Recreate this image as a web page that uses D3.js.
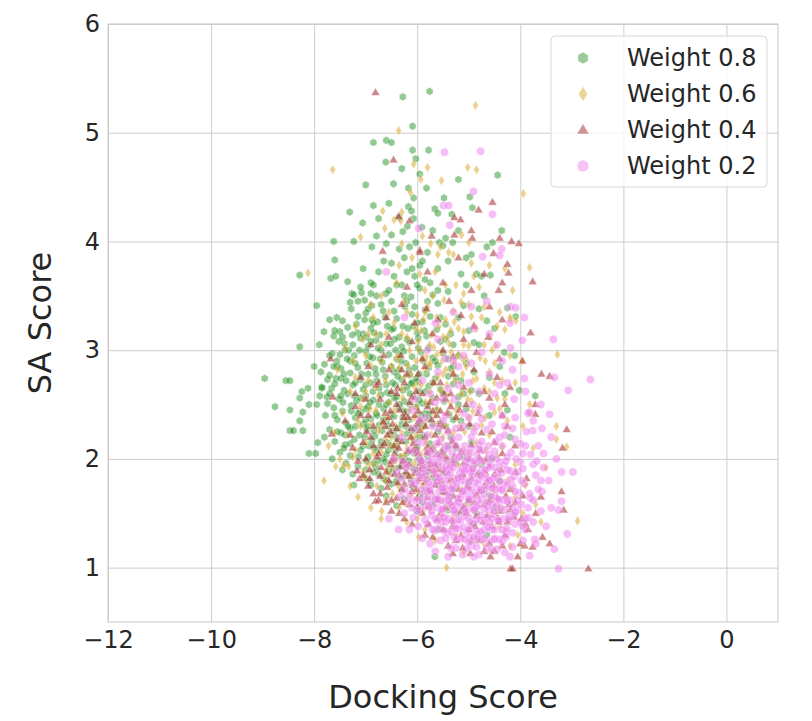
<!DOCTYPE html>
<html>
<head>
<meta charset="utf-8">
<script src="https://cdn.jsdelivr.net/npm/d3@7"></script>
<style>
  body { margin: 0; background: #fff; }
  svg { display: block; font-family: "DejaVu Sans", sans-serif; }
</style>
</head>
<body>
<svg id="chart" width="812" height="721"></svg>
<script>
// Docking score (x) vs SA score (y), one array per weight

const xTicks = [-12, -10, -8, -6, -4, -2, 0];
const yTicks = [1, 2, 3, 4, 5, 6];
const seriesNames = ["Weight 0.8", "Weight 0.6", "Weight 0.4", "Weight 0.2"];

const weight08 = [
  [-6.28,5.33],[-5.76,5.38],[-6.09,5.06],[-6.85,4.91],[-6.6,4.93],[-6.5,4.91],[-6.09,4.84],[-5.78,4.84],
  [-6.61,4.73],[-6.03,4.76],[-5.2,4.57],[-4.44,4.61],[-7.0,4.52],[-6.46,4.53],[-6.17,4.49],[-5.82,4.49],
  [-6.07,4.4],[-4.98,4.41],[-4.93,4.31],[-6.85,4.33],[-7.31,4.27],[-6.75,4.21],[-7.06,4.17],[-6.17,4.32],
  [-6.11,4.28],[-5.66,4.3],[-5.6,4.26],[-5.33,4.25],[-6.07,4.21],[-6.19,4.14],[-6.28,4.09],[-5.91,4.13],
  [-6.5,4.06],[-6.79,4.05],[-7.62,4.0],[-7.23,4.0],[-4.36,4.1],[-4.54,3.99],[-5.45,4.03],[-5.31,3.99],
  [-5.57,3.99],[-6.03,3.99],[-6.88,3.95],
  [-7.6,3.83],[-8.28,3.69],[-7.68,3.66],[-7.58,3.68],[-7.35,3.63],[-7.95,3.41],[-8.28,3.03],[-8.96,2.74],
  [-8.55,2.72],[-8.47,2.72],[-8.76,2.48],[-8.47,2.45],[-8.24,2.62],[-8.12,2.65],[-8.28,2.56],[-8.1,2.5],
  [-8.22,2.43],[-8.28,2.35],[-8.47,2.26],[-8.4,2.26],[-8.22,2.26],[-7.93,2.15],[-8.1,2.05],[-7.97,2.05],
  [-7.87,2.8],[-7.85,2.65],[-7.89,2.58],[-7.74,2.51],[-7.66,2.65],[-7.81,3.17],[-7.7,3.28],[-7.62,3.13],
  [-7.5,3.17],[-7.56,3.3],[-7.27,3.52],[-7.23,3.51],[-7.08,3.53],[-7.0,3.34],[-6.88,3.41],[-6.88,3.28],
  [-6.79,3.5],[-6.61,3.52],[-6.77,3.26],[-7.16,3.16],[-7.41,3.06],[-7.33,3.0],[-7.56,2.9],[-7.48,2.83],
  [-7.74,2.73],[-7.58,2.74],[-7.23,1.76],[-5.66,1.1],
  [-4.58,3.69],[-4.25,3.39],[-4.09,3.31],[-4.11,2.95],[-4.31,2.98],[-4.02,2.63],[-3.71,2.58],
  [-6.75,3.72],[-6.5,3.8],[-6.25,3.85],[-6.05,3.68],[-5.95,3.78],[-5.8,3.9],[-5.6,3.75],[-5.4,3.82],
  [-5.15,3.7],[-4.95,3.88],[-4.75,3.68],[-6.9,3.62],[-6.35,3.93],[-5.5,3.96],[-5.05,3.6],
  [-7.1,3.58],[-6.9,3.52],[-6.55,3.55],[-6.3,3.6],[-6.12,3.49],[-5.95,3.57],[-5.7,3.51],[-5.4,3.54],
  [-7.3,3.44],[-6.95,3.38],[-6.7,3.42],[-6.45,3.36],[-6.2,3.45],[-6.05,3.4],[-5.85,3.37],[-5.6,3.43],[-5.1,3.41],[-4.8,3.38],
  [-7.45,3.27],[-7.15,3.31],[-6.85,3.25],[-6.62,3.3],[-6.4,3.29],[-6.28,3.22],[-6.1,3.33],[-5.9,3.26],[-5.75,3.31],[-5.45,3.24],[-5.2,3.3],[-4.65,3.27],
  [-7.6,3.18],[-7.35,3.21],[-7.05,3.15],[-6.9,3.2],[-6.72,3.14],[-6.5,3.19],[-6.35,3.12],[-6.18,3.2],[-6.0,3.16],[-5.82,3.13],[-5.62,3.19],[-5.35,3.15],[-5.0,3.18],
  [-7.52,3.08],[-7.25,3.05],[-7.1,3.11],[-6.95,3.04],[-6.8,3.09],[-6.6,3.06],[-6.44,3.1],[-6.3,3.03],[-6.15,3.07],[-5.98,3.11],[-5.78,3.02],[-5.55,3.08],[-5.3,3.05],[-4.9,3.07],
  [-7.65,2.97],[-7.4,3.0],[-7.22,2.95],[-7.0,2.99],[-6.86,2.93],[-6.7,3.0],[-6.55,2.96],[-6.4,2.92],[-6.26,2.99],[-6.1,2.94],[-5.92,2.98],[-5.7,2.93],[-5.5,2.97],[-5.2,2.95],
  [-7.8,2.87],[-7.55,2.85],[-7.3,2.9],[-7.15,2.84],[-6.98,2.88],[-6.82,2.83],[-6.68,2.89],[-6.5,2.85],[-6.35,2.82],[-6.22,2.88],[-6.05,2.84],[-5.88,2.9],[-5.6,2.86],[-5.35,2.83],[-5.05,2.88],
  [-7.7,2.77],[-7.48,2.74],[-7.3,2.79],[-7.1,2.73],[-6.95,2.78],[-6.78,2.72],[-6.62,2.76],[-6.45,2.8],[-6.3,2.73],[-6.15,2.77],[-6.0,2.71],[-5.82,2.78],[-5.65,2.74],[-5.4,2.76],[-5.15,2.72],
  [-7.85,2.66],[-7.6,2.69],[-7.42,2.63],[-7.25,2.68],[-7.05,2.64],[-6.9,2.7],[-6.74,2.65],[-6.58,2.61],[-6.42,2.68],[-6.28,2.63],[-6.12,2.69],[-5.96,2.62],[-5.78,2.67],[-5.55,2.64],[-5.3,2.69],[-4.95,2.63],
  [-7.75,2.57],[-7.52,2.55],[-7.35,2.6],[-7.18,2.53],[-7.0,2.58],[-6.85,2.54],[-6.7,2.59],[-6.55,2.52],[-6.4,2.57],[-6.25,2.53],[-6.08,2.58],[-5.9,2.51],[-5.7,2.56],[-5.48,2.53],[-5.2,2.57],
  [-7.62,2.47],[-7.45,2.44],[-7.28,2.49],[-7.1,2.43],[-6.95,2.48],[-6.8,2.42],[-6.65,2.46],[-6.5,2.41],[-6.36,2.47],[-6.2,2.43],[-6.02,2.48],[-5.85,2.42],[-5.62,2.45],[-5.38,2.41],[-5.05,2.46],
  [-7.55,2.36],[-7.38,2.33],[-7.2,2.38],[-7.05,2.32],[-6.9,2.37],[-6.74,2.31],[-6.6,2.35],[-6.45,2.39],[-6.3,2.32],[-6.15,2.36],[-5.98,2.31],[-5.78,2.37],[-5.55,2.33],[-5.3,2.36],
  [-7.7,2.27],[-7.48,2.24],[-7.3,2.28],[-7.12,2.22],[-6.98,2.27],[-6.82,2.21],[-6.68,2.26],[-6.52,2.22],[-6.38,2.28],[-6.2,2.23],[-6.05,2.27],[-5.85,2.21],[-5.6,2.25],
  [-7.6,2.16],[-7.4,2.13],[-7.22,2.18],[-7.05,2.12],[-6.88,2.17],[-6.72,2.11],[-6.58,2.15],[-6.4,2.12],[-6.22,2.16],[-6.0,2.11],[-5.75,2.14],[-5.4,2.12],
  [-7.5,2.06],[-7.3,2.03],[-7.1,2.08],[-6.95,2.02],[-6.78,2.07],[-6.6,2.04],[-6.42,2.08],[-6.25,2.01],[-6.05,2.05],[-5.8,2.03],[-5.5,2.07],[-5.1,2.02],
  [-7.38,1.96],[-7.15,1.93],[-6.98,1.98],[-6.8,1.92],[-6.62,1.97],[-6.45,1.91],[-6.28,1.95],[-6.1,1.92],[-5.9,1.97],[-5.6,1.93],[-5.25,1.96],[-4.9,1.94],
  [-7.25,1.86],[-7.02,1.83],[-6.85,1.88],[-6.65,1.82],[-6.48,1.87],[-6.3,1.84],[-6.12,1.81],[-5.92,1.86],[-5.7,1.83],[-5.45,1.87],[-5.15,1.84],[-4.8,1.86],
  [-6.9,1.76],[-6.7,1.73],[-6.5,1.77],[-6.3,1.72],[-6.1,1.75],[-5.85,1.71],[-5.6,1.76],[-5.3,1.73],[-5.0,1.77],[-4.7,1.72],
  [-6.6,1.66],[-6.25,1.63],[-5.95,1.67],[-5.65,1.62],[-5.35,1.65],[-5.0,1.61],[-4.6,1.66],
  [-6.4,1.57],[-6.0,1.52],[-5.7,1.58],[-5.4,1.53],[-5.1,1.56],[-4.85,1.5],[-4.5,1.55],
  [-4.7,3.5],[-4.5,3.2],[-4.4,2.85],[-4.6,2.75],[-4.8,3.05],[-4.3,2.6],
  [-7.18,3.24],[-6.98,3.12],[-6.76,3.02],[-6.58,3.22],[-6.42,3.0],[-6.2,3.1],[-6.92,2.94],[-6.66,2.82],[-6.48,2.7],[-6.32,2.9],
  [-6.14,2.6],[-5.96,2.78],[-7.08,2.78],[-7.22,2.58],[-6.86,2.62],[-6.6,2.5],[-6.44,2.56],[-6.26,2.44],[-6.1,2.7],[-5.92,2.4],
  [-7.15,2.42],[-6.96,2.3],[-6.78,2.4],[-6.56,2.3],[-6.4,2.2],[-6.22,2.3],[-6.06,2.18],[-5.88,2.3],[-7.34,2.3],[-7.02,2.2],
  [-6.84,2.1],[-6.66,2.0],[-6.5,2.12],[-6.34,2.02],[-6.16,1.98],[-5.95,2.2],[-7.44,2.52],[-7.6,2.4],[-7.38,2.72],[-7.5,2.96],
  [-7.2,2.88],[-7.0,2.46],[-6.7,2.16],[-6.55,1.9],[-6.2,1.86],[-5.8,2.5],[-5.7,2.7],[-5.5,2.6],[-5.65,2.9],[-5.45,3.1],
  [-5.3,2.85],[-5.2,2.5],[-5.0,2.3],[-4.8,2.6],[-4.6,2.4],[-4.9,2.8],[-7.28,3.38],[-7.02,3.46],[-6.5,3.45],[-6.25,3.5],
  [-6.0,3.25],[-5.8,3.45],[-5.55,3.3],[-6.0,3.6],[-5.75,3.62],[-6.45,3.68],[-7.05,3.75],[-6.2,3.72],[-5.9,3.82],[-6.6,3.98],
  [-6.15,3.95],[-5.7,4.1],[-6.35,4.22],[-6.55,4.35],[-5.95,4.62],[-6.3,4.67],[-5.48,4.4],[-5.2,4.1],[-5.05,3.85],[-4.85,3.7],
  [-4.65,3.95],[-7.42,2.1],[-7.55,2.25],[-7.78,2.4],[-7.95,2.5],[-7.7,2.95],[-7.9,3.05],[-8.0,2.85],[-7.8,2.2],[-7.65,2.0],
  [-7.45,1.9],[-6.95,1.8],[-6.75,1.86],[-6.4,1.8],[-6.0,1.9],[-5.75,1.95],[-5.55,2.05],[-5.35,2.2],[-5.15,2.35],[-4.95,2.15],
  [-4.75,1.95],[-4.55,2.0],[-4.4,1.8],[-4.2,2.2],[-4.25,2.45],[-5.9,1.6],[-5.5,1.7],[-5.2,1.5],[-4.9,1.4],[-5.6,1.35],[-4.65,1.3],
  [-7.26,3.14],[-7.02,3.28],[-6.84,3.16],[-6.66,3.36],[-6.46,3.2],[-6.24,3.4],[-6.08,3.22],[-5.86,3.18],
  [-7.36,2.92],[-7.12,3.0],[-6.9,3.08],[-6.72,2.92],[-6.52,3.06],[-6.34,2.96],[-6.16,2.82],[-5.98,3.02],[-5.78,2.84],
  [-7.42,2.78],[-7.2,2.7],[-7.0,2.68],[-6.8,2.78],[-6.6,2.68],[-6.38,2.76],[-6.2,2.66],[-6.02,2.74],[-5.84,2.62],
  [-7.48,2.58],[-7.28,2.44],[-7.1,2.56],[-6.92,2.52],[-6.74,2.5],[-6.52,2.6],[-6.34,2.5],[-6.14,2.5],[-5.96,2.54],[-5.76,2.42],
  [-7.4,2.22],[-7.2,2.3],[-7.0,2.36],[-6.84,2.26],[-6.66,2.36],[-6.46,2.26],[-6.28,2.38],[-6.1,2.26],[-5.92,2.34],[-5.7,2.32],
  [-7.3,2.14],[-7.14,2.02],[-6.94,2.12],[-6.76,1.98],[-6.56,2.08],[-6.36,2.16],[-6.18,2.06],[-5.98,2.0],[-5.7,2.1],[-5.45,2.3],
  [-7.0,1.9],[-6.85,1.96],[-6.6,1.8],[-6.35,1.92],[-5.8,1.88],[-5.45,2.0],[-5.25,2.1],[-5.1,2.6],[-5.25,2.75],[-5.4,2.92],
  [-7.7,2.6],[-7.62,2.85],[-7.45,3.12],[-7.15,3.45],[-6.85,3.6],[-6.65,3.82],[-6.4,3.6],[-6.1,3.75],[-5.85,3.65],[-5.6,3.55]
];

const weight06 = [
  [-4.87,5.25],[-6.36,5.02],[-7.64,4.66],[-6.07,4.71],[-5.8,4.68],[-5.02,4.68],[-4.85,4.66],[-5.93,4.57],
  [-5.53,4.56],[-6.13,4.45],[-3.94,4.44],[-6.67,4.28],[-6.3,4.27],[-6.32,4.19],[-6.63,4.12],[-7.1,4.04],
  [-5.14,4.06],[-5.0,3.99],[-6.3,3.98],[-5.74,3.98],[-5.39,3.9],[-6.45,4.2],[-5.9,4.05],[-4.3,3.75],[-4.15,3.55],
  [-8.12,3.71],[-7.81,1.8],[-7.58,1.93],[-7.43,1.94],[-7.33,1.93],[-7.72,2.12],[-7.6,2.24],
  [-6.69,1.52],[-5.43,1.0],[-5.97,1.28],
  [-3.3,2.3],[-3.1,2.11],[-3.82,2.5],[-2.89,1.43],[-3.28,2.96],[-3.82,3.76],[-4.48,3.04],[-3.96,2.9],
  [-4.19,3.28],[-4.09,3.27],[-3.82,2.42],[-3.3,2.18],[-3.5,1.92],
  [-6.4,3.62],[-6.1,3.85],[-5.85,3.55],[-5.65,3.72],[-5.45,3.6],[-5.3,3.88],[-5.1,3.52],[-4.9,3.68],[-4.6,3.78],[-6.7,3.5],[-5.55,3.95],[-4.8,3.58],
  [-6.9,3.42],[-6.55,3.35],[-6.25,3.45],[-6.0,3.32],[-5.8,3.4],[-5.62,3.3],[-5.48,3.46],[-5.3,3.36],[-5.15,3.44],[-4.95,3.31],[-4.7,3.4],[-4.4,3.35],[-4.2,3.3],
  [-7.2,3.22],[-6.8,3.15],[-6.45,3.25],[-6.2,3.12],[-6.02,3.2],[-5.88,3.28],[-5.72,3.14],[-5.58,3.22],[-5.42,3.12],[-5.28,3.26],[-5.1,3.17],[-4.9,3.23],[-4.6,3.12],[-4.3,3.19],
  [-7.4,3.02],[-7.0,2.95],[-6.7,3.05],[-6.4,2.92],[-6.15,3.0],[-5.98,3.08],[-5.82,2.94],[-5.68,3.03],[-5.52,2.9],[-5.38,3.06],[-5.2,2.96],[-5.0,3.04],[-4.78,2.93],[-4.55,3.0],[-4.2,2.95],
  [-7.55,2.82],[-7.2,2.75],[-6.9,2.86],[-6.62,2.72],[-6.35,2.84],[-6.12,2.78],[-5.95,2.7],[-5.78,2.87],[-5.6,2.76],[-5.45,2.82],[-5.25,2.72],[-5.05,2.85],[-4.85,2.74],[-4.6,2.8],[-4.35,2.72],
  [-7.3,2.62],[-7.05,2.55],[-6.8,2.66],[-6.55,2.52],[-6.3,2.64],[-6.1,2.56],[-5.92,2.68],[-5.72,2.54],[-5.55,2.63],[-5.35,2.51],[-5.15,2.6],[-4.95,2.53],[-4.7,2.65],[-4.45,2.56],
  [-7.45,2.42],[-7.15,2.35],[-6.92,2.46],[-6.68,2.32],[-6.45,2.44],[-6.22,2.36],[-6.02,2.48],[-5.85,2.33],[-5.65,2.41],[-5.45,2.3],[-5.25,2.45],[-5.0,2.38],[-4.75,2.31],[-4.5,2.43],[-4.25,2.35],
  [-7.35,2.22],[-7.0,2.15],[-6.75,2.26],[-6.52,2.12],[-6.3,2.24],[-6.08,2.16],[-5.9,2.28],[-5.7,2.1],[-5.5,2.2],[-5.3,2.13],[-5.08,2.25],[-4.85,2.15],[-4.6,2.22],[-4.35,2.11],
  [-7.25,2.02],[-6.95,1.95],[-6.7,2.06],[-6.48,1.92],[-6.25,2.04],[-6.05,1.96],[-5.85,2.08],[-5.65,1.93],[-5.42,2.01],[-5.2,1.94],[-4.98,2.05],[-4.72,1.97],[-4.45,2.03],[-4.1,1.95],
  [-7.0,1.82],[-6.78,1.75],[-6.55,1.86],[-6.32,1.72],[-6.1,1.84],[-5.9,1.76],[-5.68,1.88],[-5.48,1.73],[-5.25,1.81],[-5.02,1.74],[-4.78,1.85],[-4.52,1.71],[-4.25,1.8],[-3.9,1.76],
  [-6.6,1.62],[-6.35,1.55],[-6.12,1.66],[-5.88,1.52],[-5.62,1.64],[-5.4,1.56],[-5.15,1.68],[-4.9,1.53],[-4.65,1.61],[-4.38,1.55],[-4.1,1.65],[-3.7,1.58],
  [-6.2,1.42],[-5.85,1.35],[-5.55,1.45],[-5.25,1.3],[-4.95,1.4],[-4.7,1.22],[-4.4,1.38],[-4.05,1.3],[-3.6,1.42],
  [-6.6,2.38],[-6.85,2.05],[-7.1,2.3],[-6.4,2.12],[-6.15,2.45],[-5.75,2.62],[-5.5,2.78],[-5.9,2.92],[-5.35,3.18],[-6.05,2.66],
  [-5.92,3.18],[-5.76,3.05],[-5.62,2.96],[-5.5,3.12],[-5.34,2.98],[-5.2,3.2],[-5.05,2.92],[-5.85,2.82],[-5.7,2.7],[-5.42,2.68],
  [-5.28,2.88],[-5.12,2.78],[-4.98,2.62],[-6.02,2.9],[-6.25,2.75],[-6.5,2.85],[-6.75,2.58],[-6.95,2.72],[-7.1,2.48],[-6.88,2.32],
  [-6.62,2.18],[-6.42,2.3],[-6.2,2.1],[-6.02,2.22],[-5.82,2.15],[-5.6,2.32],[-5.4,2.42],[-5.18,2.3],[-4.92,2.44],[-4.68,2.38],
  [-7.2,2.08],[-7.05,1.88],[-6.85,1.95],[-6.62,1.8],[-6.42,1.98],[-6.2,1.85],[-5.98,1.7],[-5.78,1.82],[-5.55,1.9],[-5.35,1.78],
  [-5.1,1.85],[-4.88,1.95],[-4.62,1.82],[-4.4,1.9],[-4.15,1.72],[-6.48,1.68],[-6.25,1.6],[-6.0,1.45],[-5.75,1.55],[-5.5,1.62],
  [-5.3,1.48],[-5.05,1.58],[-4.8,1.68],[-4.55,1.5],[-4.25,1.45],[-3.95,1.5],[-5.65,1.25],[-5.1,1.15],[-4.85,1.28],[-4.55,1.15],
  [-4.2,1.2],[-7.3,1.75],[-7.5,2.0],[-7.15,1.65],[-6.9,1.55],[-6.7,1.45],[-4.3,2.55],[-4.1,2.7],[-3.95,2.3],[-3.75,2.1],
  [-4.5,2.88],[-4.7,3.05],[-4.45,3.22],[-5.7,3.5],[-5.95,3.7],[-6.2,3.35],[-6.6,3.15],[-6.85,3.3],[-7.05,3.1],[-5.25,3.6],
  [-5.0,3.42],[-4.85,3.2],[-6.35,3.78],[-5.6,3.88],[-4.95,3.8],
  [-6.38,2.94],[-6.18,2.86],[-5.96,3.0],[-5.74,2.88],[-5.52,2.98],[-5.32,2.8],[-5.12,2.92],[-4.92,2.72],[-4.68,2.9],[-4.5,2.7],
  [-6.28,2.56],[-6.05,2.38],[-5.84,2.52],[-5.62,2.46],[-5.42,2.58],[-5.22,2.4],[-5.02,2.55],[-4.8,2.48],[-4.6,2.62],[-4.4,2.46],
  [-6.5,2.2],[-6.32,2.02],[-6.12,2.2],[-5.92,2.04],[-5.72,2.22],[-5.52,2.08],[-5.3,2.24],[-5.1,2.08],[-4.9,2.28],[-4.66,2.08],
  [-6.6,1.9],[-6.38,1.76],[-6.16,1.94],[-5.96,1.8],[-5.76,1.96],[-5.56,1.8],[-5.36,1.96],[-5.14,1.72],[-4.94,1.88],[-4.7,1.75],
  [-6.8,2.45],[-7.0,2.62],[-6.7,2.9],[-7.25,2.9],[-6.95,3.15],[-6.3,3.15],[-5.85,3.35],[-5.45,3.28],[-5.1,3.05],[-4.75,3.3]
];

const weight04 = [
  [-6.81,5.37],[-6.46,4.75],[-6.36,4.23],[-6.15,4.19],[-4.54,4.36],[-4.81,4.29],[-5.28,4.22],[-5.16,4.2],
  [-4.95,4.1],[-4.93,4.03],[-5.28,4.06],[-5.72,4.05],[-4.4,4.03],[-4.17,4.0],[-4.03,3.98],[-4.52,3.89],
  [-6.67,3.91],[-5.95,3.92],[-4.25,3.79],[-4.23,3.71],[-4.42,3.55],[-3.76,3.63],[-3.8,3.16],[-3.59,2.78],
  [-3.43,2.76],[-3.96,2.9],[-3.71,2.5],[-3.1,2.27],[-3.18,2.1],[-3.2,1.7],[-3.16,1.53],[-3.57,1.28],
  [-3.92,1.2],[-3.76,1.19],[-3.43,1.22],[-4.58,1.1],[-4.97,1.13],[-5.31,1.13],[-4.19,0.99],[-4.15,0.99],
  [-2.68,0.99],[-3.71,2.41],
  [-7.68,2.92],[-7.66,2.23],[-7.64,2.57],[-7.17,1.89],[-7.12,1.82],[-6.81,1.61],
  [-6.2,3.58],[-5.8,3.72],[-5.5,3.62],[-5.2,3.85],[-4.95,3.55],[-4.7,3.7],[-5.95,3.9],[-4.35,3.62],
  [-6.6,3.3],[-6.3,3.42],[-6.05,3.25],[-5.82,3.38],[-5.6,3.28],[-5.38,3.45],[-5.15,3.32],[-4.9,3.22],[-4.6,3.4],[-4.35,3.28],
  [-6.9,3.05],[-6.55,3.12],[-6.32,2.95],[-6.1,3.08],[-5.9,2.92],[-5.7,3.15],[-5.5,3.0],[-5.3,2.94],[-5.1,3.1],[-4.85,2.98],[-4.62,3.12],[-4.4,2.92],
  [-7.1,2.75],[-6.8,2.68],[-6.55,2.82],[-6.38,2.65],[-6.2,2.78],[-6.02,2.62],[-5.85,2.85],[-5.68,2.7],[-5.48,2.6],[-5.3,2.78],[-5.1,2.66],[-4.9,2.82],[-4.7,2.62],[-4.45,2.75],[-4.2,2.66],
  [-7.2,2.48],[-6.95,2.4],[-6.72,2.55],[-6.55,2.38],[-6.4,2.5],[-6.25,2.42],[-6.1,2.57],[-5.95,2.36],[-5.8,2.48],[-5.62,2.4],[-5.45,2.55],[-5.25,2.38],[-5.05,2.5],[-4.82,2.42],[-4.6,2.56],[-4.35,2.4],
  [-7.3,2.22],[-7.05,2.15],[-6.85,2.3],[-6.68,2.12],[-6.52,2.25],[-6.38,2.18],[-6.22,2.32],[-6.08,2.14],[-5.95,2.26],[-5.8,2.11],[-5.65,2.22],[-5.5,2.3],[-5.32,2.16],[-5.15,2.28],[-4.95,2.13],[-4.75,2.24],[-4.5,2.15],[-4.25,2.3],
  [-7.15,1.98],[-6.92,1.9],[-6.75,2.05],[-6.6,1.88],[-6.46,2.0],[-6.32,1.93],[-6.18,2.07],[-6.05,1.87],[-5.92,1.99],[-5.78,1.91],[-5.62,2.04],[-5.48,1.88],[-5.32,1.97],[-5.15,2.06],[-4.98,1.9],[-4.8,2.01],[-4.6,1.93],[-4.35,2.05],[-4.1,1.88],
  [-6.95,1.75],[-6.72,1.68],[-6.55,1.8],[-6.4,1.64],[-6.25,1.77],[-6.1,1.7],[-5.95,1.82],[-5.8,1.65],[-5.65,1.76],[-5.5,1.69],[-5.35,1.81],[-5.2,1.63],[-5.02,1.74],[-4.85,1.67],[-4.65,1.79],[-4.45,1.64],[-4.2,1.72],[-3.95,1.66],
  [-6.5,1.52],[-6.25,1.45],[-6.0,1.56],[-5.78,1.4],[-5.55,1.5],[-5.32,1.43],[-5.1,1.55],[-4.88,1.38],[-4.65,1.48],[-4.42,1.42],[-4.2,1.53],[-3.98,1.45],[-3.7,1.5],
  [-5.7,1.28],[-5.4,1.2],[-5.15,1.3],[-4.8,1.25],[-4.5,1.15],[-4.3,1.3],[-4.0,1.22],
  [-6.45,2.12],[-6.28,1.98],[-6.12,2.2],[-5.98,2.05],[-5.72,1.95],[-5.58,2.15],[-6.62,2.3],[-6.35,1.85],[-5.85,1.78],[-6.05,2.4],
  [-6.58,2.22],[-6.44,2.05],[-6.3,2.16],[-6.16,1.95],[-6.02,2.1],[-5.88,1.94],[-5.74,2.08],[-5.6,1.9],[-5.46,2.02],[-6.52,1.95],
  [-6.38,1.78],[-6.22,1.88],[-6.08,1.76],[-5.94,1.9],[-5.8,1.72],[-5.66,1.86],[-5.52,1.78],[-5.38,1.92],[-6.7,1.92],[-6.85,2.12],
  [-6.98,2.25],[-6.62,2.42],[-6.48,2.32],[-6.34,2.45],[-6.18,2.38],[-6.0,2.32],[-5.86,2.2],[-5.72,2.36],[-5.55,2.44],[-5.4,2.26],
  [-5.25,2.12],[-5.1,1.96],[-4.95,1.82],[-4.8,1.7],[-4.68,1.88],[-4.52,1.76],[-4.38,1.9],[-4.22,1.58],[-5.3,1.66],[-5.15,1.52],
  [-5.0,1.62],[-4.85,1.48],[-4.7,1.58],[-4.55,1.38],[-4.4,1.52],[-4.25,1.42],[-4.1,1.6],[-5.45,1.55],[-5.6,1.45],[-5.9,1.5],
  [-6.15,1.58],[-6.35,1.5],[-6.6,1.6],[-6.85,1.68],[-7.05,1.85],[-7.25,2.1],[-7.4,2.35],[-7.0,2.55],[-6.75,2.7],[-6.5,2.62],
  [-6.25,2.7],[-5.98,2.78],[-5.75,2.52],[-5.55,2.7],[-5.35,2.6],[-5.18,2.45],[-4.98,2.32],[-4.78,2.08],[-4.55,2.25],[-4.3,2.5],
  [-4.1,2.12],[-3.88,1.82],[-3.6,1.65],[-3.85,1.35],[-4.05,1.1],[-4.6,1.22],[-5.0,1.35],[-5.25,1.25],[-5.5,1.35],[-5.85,1.3],[-6.1,1.4],
  [-6.78,2.02],[-6.64,2.14],[-6.5,1.98],[-6.36,2.1],[-6.22,1.96],[-6.08,2.08],[-5.94,1.96],[-5.8,2.06],[-5.66,1.94],[-5.52,2.06],
  [-6.72,1.84],[-6.58,1.74],[-6.44,1.86],[-6.3,1.72],[-6.16,1.84],[-6.02,1.72],[-5.88,1.84],[-5.74,1.7],[-5.6,1.82],[-5.46,1.7],
  [-6.66,2.34],[-6.52,2.44],[-6.4,2.28],[-6.26,2.38],[-6.12,2.28],[-5.98,2.44],[-5.84,2.3],[-5.7,2.44],[-5.56,2.32],[-5.42,2.42],
  [-6.9,2.2],[-7.0,2.0],[-6.92,1.82],[-6.75,1.62],[-6.5,1.62],[-6.28,1.6],[-6.0,1.64],[-5.78,1.56],[-5.6,1.62],[-5.35,1.6],
  [-5.28,2.02],[-5.12,1.86],[-4.98,2.0],[-4.82,1.86],[-4.66,2.0],[-4.5,1.86],[-5.2,1.72],[-5.05,1.5],[-4.9,1.6],[-4.72,1.42],
  [-4.58,1.62],[-4.44,1.46],[-4.28,1.66],[-4.12,1.46],[-5.32,1.38],[-5.12,1.18],[-4.95,1.25],[-4.7,1.15],[-4.35,1.2],[-3.9,1.4],
  [-6.4,2.6],[-6.15,2.52],[-5.9,2.6],[-5.62,2.56],[-5.35,2.48],[-7.1,2.4],[-7.2,2.6],[-6.95,2.85],[-6.65,2.95],[-6.3,2.82]
];

const weight02 = [
  [-5.47,4.82],[-4.77,4.83],[-4.91,4.46],[-5.49,4.33],[-5.39,4.33],[-4.54,4.25],[-5.37,4.15],[-5.97,4.12],
  [-4.36,3.93],[-4.73,3.86],[-4.4,3.87],[-4.19,3.4],[-4.09,3.39],[-3.92,3.3],[-3.96,3.09],[-4.19,3.02],
  [-3.92,2.74],[-3.34,2.75],[-3.36,3.1],[-2.64,2.73],[-3.07,2.63],[-3.43,2.41],[-3.76,2.26],[-3.82,2.43],
  [-2.98,1.88],[-3.2,1.88],[-3.2,1.61],[-3.26,1.53],[-3.09,1.31],[-3.34,1.17],[-3.82,1.11],[-3.72,1.26],
  [-3.26,0.99],[-6.36,1.35],[-6.55,1.45],[-6.6,3.72],[-6.25,3.3],
  [-5.6,3.1],[-5.3,3.35],[-5.1,2.95],[-4.9,3.2],[-4.65,3.45],[-4.45,3.05],[-5.45,2.92],[-4.2,3.25],[-5.8,3.0],[-4.75,2.98],
  [-5.9,2.72],[-5.6,2.8],[-5.4,2.65],[-5.2,2.85],[-5.0,2.7],[-4.8,2.62],[-4.6,2.78],[-4.4,2.68],[-4.15,2.82],[-3.9,2.62],[-5.75,2.6],[-4.95,2.88],
  [-6.1,2.45],[-5.85,2.38],[-5.65,2.52],[-5.45,2.4],[-5.28,2.55],[-5.1,2.42],[-4.92,2.5],[-4.75,2.37],[-4.55,2.48],[-4.35,2.4],[-4.12,2.55],[-3.85,2.42],[-3.6,2.5],
  [-6.3,2.2],[-6.05,2.28],[-5.88,2.15],[-5.7,2.3],[-5.55,2.18],[-5.4,2.25],[-5.25,2.12],[-5.1,2.3],[-4.95,2.2],[-4.8,2.13],[-4.65,2.27],[-4.48,2.16],[-4.3,2.3],[-4.1,2.18],[-3.88,2.25],[-3.65,2.12],[-3.4,2.2],
  [-6.45,2.0],[-6.2,1.94],[-6.02,2.06],[-5.85,1.92],[-5.72,2.02],[-5.6,1.95],[-5.48,2.08],[-5.36,1.93],[-5.22,2.01],[-5.1,1.91],[-4.98,2.05],[-4.85,1.96],[-4.72,2.08],[-4.6,1.92],[-4.46,2.0],[-4.32,1.94],[-4.18,2.06],[-4.0,1.97],[-3.8,2.04],[-3.55,1.92],[-3.3,2.0],
  [-6.3,1.82],[-6.05,1.77],[-5.9,1.86],[-5.78,1.78],[-5.66,1.88],[-5.54,1.8],[-5.42,1.85],[-5.3,1.76],[-5.18,1.87],[-5.06,1.79],[-4.94,1.84],[-4.82,1.76],[-4.7,1.86],[-4.58,1.8],[-4.44,1.88],[-4.3,1.78],[-4.12,1.84],[-3.92,1.77],[-3.7,1.85],[-3.45,1.8],
  [-6.15,1.68],[-5.95,1.62],[-5.82,1.72],[-5.7,1.65],[-5.58,1.7],[-5.46,1.61],[-5.34,1.73],[-5.22,1.64],[-5.1,1.71],[-4.98,1.62],[-4.86,1.69],[-4.74,1.63],[-4.62,1.74],[-4.5,1.66],[-4.36,1.71],[-4.2,1.62],[-4.02,1.69],[-3.8,1.64],[-3.58,1.7],
  [-6.0,1.52],[-5.85,1.57],[-5.72,1.48],[-5.6,1.55],[-5.48,1.47],[-5.36,1.58],[-5.24,1.5],[-5.12,1.56],[-5.0,1.46],[-4.88,1.54],[-4.76,1.48],[-4.64,1.57],[-4.52,1.49],[-4.38,1.55],[-4.22,1.47],[-4.05,1.53],[-3.85,1.46],[-3.6,1.52],
  [-5.8,1.4],[-5.66,1.34],[-5.52,1.42],[-5.4,1.32],[-5.28,1.38],[-5.16,1.43],[-5.04,1.33],[-4.92,1.4],[-4.8,1.31],[-4.68,1.41],[-4.55,1.35],[-4.42,1.43],[-4.28,1.33],[-4.1,1.4],[-3.9,1.35],[-3.5,1.38],
  [-5.55,1.25],[-5.35,1.18],[-5.15,1.27],[-4.95,1.2],[-4.75,1.26],[-4.55,1.16],[-4.35,1.24],[-4.15,1.19],[-3.7,1.22],
  [-5.75,1.95],[-5.62,1.84],[-5.5,1.74],[-5.38,1.66],[-5.25,1.57],[-5.13,1.9],[-5.02,1.98],[-4.9,1.88],[-4.78,1.72],[-4.66,1.82],
  [-4.54,1.58],[-4.42,1.73],[-5.55,1.62],[-5.3,1.52],[-5.05,1.68],[-4.8,1.58],[-4.6,1.42],[-5.45,2.12],[-5.2,2.2],[-4.9,2.25],
  [-4.7,1.98],[-5.65,1.45],[-5.4,1.9],[-5.15,1.8],[-4.95,1.55],[-4.45,1.83],[-4.25,1.9],[-5.8,1.7],[-5.92,1.98],[-4.4,1.62],
  [-5.32,2.05],[-5.08,2.12],[-4.84,2.04],[-5.58,2.28],[-5.7,1.58],[-5.45,1.42],[-5.2,1.36],[-4.98,1.28],[-4.7,1.35],[-4.5,1.27],
  [-5.0,1.92],[-4.75,1.9],[-5.28,1.82],[-5.52,1.96],[-4.62,2.12],[-4.35,2.12],[-4.15,1.75],[-3.98,1.58],[-4.05,1.88],[-5.95,1.85],
  [-5.66,1.96],[-5.44,1.93],[-5.28,1.97],[-5.06,1.94],[-4.9,1.98],[-4.58,1.95],[-4.4,1.97],
  [-5.84,1.86],[-5.56,1.83],[-5.36,1.87],[-5.12,1.84],[-4.96,1.88],[-4.76,1.85],[-4.52,1.82],[-4.36,1.87],
  [-5.72,1.76],[-5.45,1.73],[-5.24,1.77],[-5.02,1.74],[-4.88,1.78],[-4.68,1.75],[-4.48,1.72],[-4.26,1.76],
  [-5.88,1.66],[-5.64,1.63],[-5.4,1.67],[-5.16,1.64],[-4.92,1.66],[-4.7,1.68],[-4.56,1.65],[-4.32,1.62],
  [-5.78,1.56],[-5.52,1.53],[-5.32,1.57],[-5.08,1.54],[-4.84,1.56],[-4.6,1.53],[-4.46,1.57],[-4.15,1.55],
  [-5.5,1.46],[-5.3,1.43],[-5.08,1.47],[-4.86,1.44],[-4.64,1.46],[-4.34,1.45],[-4.12,1.48],
  [-5.58,1.36],[-5.34,1.33],[-5.1,1.37],[-4.86,1.34],[-4.62,1.37],[-4.36,1.35],
  [-5.22,1.26],[-5.0,1.23],[-4.82,1.27],[-4.6,1.24],[-4.4,1.26],
  [-5.8,2.06],[-5.55,2.03],[-5.15,2.07],[-4.95,2.1],[-4.6,2.04],[-4.25,2.02],
  [-6.0,2.15],[-5.62,2.14],[-5.32,2.18],[-4.75,2.16],[-4.4,2.2],[-4.0,2.14],
  [-6.1,1.55],[-6.25,1.72],[-6.4,1.88],[-5.95,2.35],[-5.5,2.55],[-5.2,2.68],[-4.8,2.45],[-4.5,2.6],[-4.25,2.7],[-3.75,2.35],
  [-3.55,2.05],[-3.65,1.72],[-3.4,1.55],[-3.75,1.42],[-3.95,1.25],[-4.2,1.1],[-4.8,1.12],[-5.4,1.1],[-5.75,1.22],[-6.15,1.35],
  [-6.05,2.55],[-5.3,2.9],[-4.6,3.15],[-4.95,3.4],[-5.65,3.25],[-4.35,2.9],
  [-5.7,2.08],[-5.4,2.1],[-5.05,2.06],[-4.8,2.09],[-4.5,2.07],
  [-5.95,2.0],[-5.78,1.98],[-5.58,2.01],[-5.42,1.99],[-5.18,2.02],[-5.02,2.0],[-4.78,1.99],[-4.55,2.01],[-4.28,1.98],[-4.08,2.0],
  [-6.05,1.9],[-5.9,1.91],[-5.7,1.89],[-5.5,1.9],[-5.3,1.92],[-5.08,1.89],[-4.92,1.91],[-4.68,1.9],[-4.48,1.92],[-4.2,1.89],[-3.95,1.91],
  [-6.0,1.8],[-5.82,1.81],[-5.62,1.79],[-5.42,1.8],[-5.2,1.82],[-5.0,1.79],[-4.8,1.81],[-4.6,1.8],[-4.4,1.79],[-4.18,1.81],[-3.98,1.8],
  [-5.92,1.72],[-5.75,1.71],[-5.52,1.73],[-5.32,1.72],[-5.12,1.7],[-4.95,1.72],[-4.75,1.71],[-4.55,1.73],[-4.35,1.72],[-4.1,1.7],
  [-6.05,1.62],[-5.8,1.61],[-5.6,1.63],[-5.4,1.62],[-5.2,1.6],[-5.0,1.63],[-4.82,1.62],[-4.62,1.6],[-4.42,1.63],[-4.25,1.61],[-4.05,1.62],
  [-5.95,1.53],[-5.72,1.52],[-5.5,1.54],[-5.28,1.53],[-5.05,1.51],[-4.9,1.53],[-4.7,1.54],[-4.5,1.52],[-4.3,1.53],[-4.1,1.51],
  [-5.85,1.44],[-5.62,1.43],[-5.4,1.45],[-5.2,1.44],[-4.98,1.42],[-4.78,1.44],[-4.55,1.45],[-4.42,1.43],[-4.22,1.44],[-4.0,1.42],
  [-5.7,1.35],[-5.48,1.34],[-5.25,1.36],[-5.0,1.35],[-4.76,1.33],[-4.5,1.35],[-4.26,1.36],
  [-5.45,1.27],[-5.28,1.28],[-5.08,1.26],[-4.9,1.28],[-4.7,1.27],[-4.5,1.26],[-4.28,1.28],
  [-5.25,1.18],[-5.05,1.17],[-4.85,1.19],[-4.65,1.18],[-4.45,1.17],
  [-5.8,2.22],[-5.5,2.35],[-5.25,2.28],[-5.0,2.38],[-4.85,2.3],[-4.55,2.32],[-4.3,2.22],[-4.1,2.38],[-3.95,2.05],[-3.75,1.95],
  [-3.6,1.8],[-3.85,1.55],[-3.95,1.38],[-3.75,1.62],[-4.15,1.32],
  [-6.22,1.92],[-6.12,1.78],[-6.18,1.62],[-6.08,1.46],[-6.25,1.5],[-6.32,1.66],[-6.15,2.08],[-6.28,1.98],[-5.98,1.38],[-5.9,1.27],
  [-5.65,1.15],[-5.12,1.12],[-4.9,1.1],[-4.3,1.14],[-3.9,1.45],[-3.82,1.68],[-3.68,1.98],[-3.9,2.12],[-4.15,2.28],[-3.58,2.28]
];

const seriesData = [weight08, weight06, weight04, weight02];
const seriesColors = ["#008000", "#daa520", "#a52a2a", "#ee82ee"];
const seriesOpacity = [0.4, 0.47, 0.5, 0.47];
const pointOpacity = [0.42, 0.5, 0.55, 0.52];
const seriesShapes = ["hexagon", "thinDiamond", "triangle", "circle"];
const markerRadius = [4.1, 4.6, 4.6, 4.2];

const width = 812, height = 721;
const margin = { left: 108, right: 34, top: 24, bottom: 99 };

const svg = d3.select("#chart");

const x = d3.scaleLinear().domain([-12, 1]).range([margin.left, width - margin.right]);
const y = d3.scaleLinear().domain([0.5, 6]).range([height - margin.bottom, margin.top]);

// marker path, r is roughly the half size in px
function markerPath(shape, r) {
  if (shape === "circle") {
    return d3.symbol().type(d3.symbolCircle).size(Math.PI * r * r)();
  }
  let pts;
  if (shape === "hexagon") {
    pts = d3.range(6).map(i => {
      const a = Math.PI / 2 + i * Math.PI / 3;
      return [r * Math.cos(a), -r * Math.sin(a)];
    });
  } else if (shape === "thinDiamond") {
    pts = [[0, -r * 1.1], [r * 0.66, 0], [0, r * 1.1], [-r * 0.66, 0]];
  } else {
    // triangle up
    pts = [[0, -r * 1.05], [r * 1.0, r * 0.65], [-r * 1.0, r * 0.65]];
  }
  return "M" + pts.map(p => p[0].toFixed(2) + "," + p[1].toFixed(2)).join("L") + "Z";
}

// grid
svg.append("g")
  .attr("transform", `translate(0,${height - margin.bottom})`)
  .call(d3.axisBottom(x).tickValues(xTicks).tickSize(-(height - margin.top - margin.bottom)).tickFormat(""))
  .call(g => g.select(".domain").remove())
  .call(g => g.selectAll("line").attr("stroke", "#cccccc").attr("stroke-width", 1));

svg.append("g")
  .attr("transform", `translate(${margin.left},0)`)
  .call(d3.axisLeft(y).tickValues(yTicks).tickSize(-(width - margin.left - margin.right)).tickFormat(""))
  .call(g => g.select(".domain").remove())
  .call(g => g.selectAll("line").attr("stroke", "#cccccc").attr("stroke-width", 1));

// points
const plot = svg.append("g");
seriesData.forEach((data, i) => {
  const d = markerPath(seriesShapes[i], markerRadius[i]);
  plot.append("g")
    .selectAll("path")
    .data(data)
    .join("path")
    .attr("d", d)
    .attr("transform", p => `translate(${x(p[0])},${y(p[1])})`)
    .attr("fill", seriesColors[i])
    .attr("stroke", "#ffffff")
    .attr("stroke-width", 0.6)
    .attr("opacity", pointOpacity[i]);
});

// frame
svg.append("rect")
  .attr("x", margin.left).attr("y", margin.top)
  .attr("width", width - margin.left - margin.right)
  .attr("height", height - margin.top - margin.bottom)
  .attr("fill", "none").attr("stroke", "#cccccc").attr("stroke-width", 1.1);

// tick labels
const xAxis = svg.append("g")
  .attr("transform", `translate(0,${height - margin.bottom})`)
  .call(d3.axisBottom(x).tickValues(xTicks).tickSize(0).tickPadding(9));
xAxis.select(".domain").remove();
xAxis.selectAll("text").attr("font-size", 24).attr("fill", "#262626")
  .attr("font-family", "DejaVu Sans");

const yAxis = svg.append("g")
  .attr("transform", `translate(${margin.left},0)`)
  .call(d3.axisLeft(y).tickValues(yTicks).tickFormat(d3.format("d")).tickSize(0).tickPadding(8));
yAxis.select(".domain").remove();
yAxis.selectAll("text").attr("font-size", 24).attr("fill", "#262626")
  .attr("font-family", "DejaVu Sans");

// axis titles
svg.append("text")
  .attr("x", x(-5.5)).attr("y", 708)
  .attr("text-anchor", "middle")
  .attr("font-size", 32).attr("fill", "#262626")
  .text("Docking Score");

svg.append("text")
  .attr("transform", `translate(51,${y(3.25)}) rotate(-90)`)
  .attr("text-anchor", "middle")
  .attr("font-size", 32).attr("fill", "#262626")
  .text("SA Score");

// legend
const legend = svg.append("g").attr("transform", "translate(551,36)");
legend.append("rect")
  .attr("width", 216).attr("height", 151)
  .attr("rx", 4)
  .attr("fill", "#ffffff").attr("fill-opacity", 0.8)
  .attr("stroke", "#d6d6d6").attr("stroke-width", 1);

const legendRadius = [6, 7, 6.2, 6];
seriesNames.forEach((name, i) => {
  const row = legend.append("g").attr("transform", `translate(0,${22 + i * 36})`);
  row.append("path")
    .attr("d", markerPath(seriesShapes[i], legendRadius[i]))
    .attr("transform", "translate(32,0)")
    .attr("fill", seriesColors[i])
    .attr("stroke", "#ffffff").attr("stroke-width", 0.6)
    .attr("opacity", seriesOpacity[i]);
  row.append("text")
    .attr("x", 76).attr("y", 0).attr("dy", "0.35em")
    .attr("font-size", 24).attr("fill", "#262626")
    .text(name);
});
</script>
</body>
</html>
